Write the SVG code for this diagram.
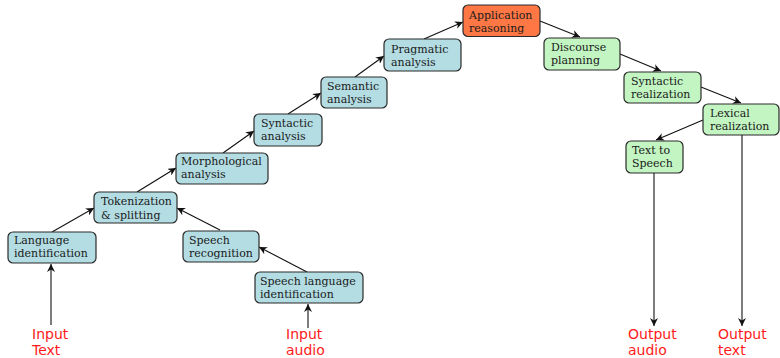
<svg xmlns="http://www.w3.org/2000/svg" width="780" height="358" viewBox="0 0 780 358">
<style>
.n rect{stroke:#2a2a2a;stroke-width:1.2}
.b rect{fill:#b3dde3}
.g rect{fill:#c3f5c3}
.o rect{fill:#ff7744}
.n text{font-family:"DejaVu Serif",serif;font-size:11px;fill:#1a1a1a}
.io{font-family:"DejaVu Sans",sans-serif;font-size:14px;fill:#ff1a1a}
#edges line{stroke:#111;stroke-width:1.1;marker-end:url(#ah)}
</style>
<defs>
<marker id="ah" viewBox="0 0 10 10" refX="10" refY="5" markerWidth="8" markerHeight="8" markerUnits="userSpaceOnUse" orient="auto">
<path d="M0,0 L10,5 L0,10 L3,5 Z" fill="#111"/>
</marker>
</defs>
<rect width="780" height="358" fill="#fff"/>
<g id="edges">
<line x1="51" y1="325" x2="51" y2="264"/>
<line x1="308" y1="328" x2="308" y2="304"/>
<line x1="52" y1="232" x2="94" y2="208"/>
<line x1="220" y1="230" x2="177" y2="208"/>
<line x1="307" y1="272" x2="259" y2="247"/>
<line x1="137" y1="192" x2="176" y2="168"/>
<line x1="223" y1="153" x2="254" y2="131"/>
<line x1="288" y1="114" x2="321" y2="93"/>
<line x1="355" y1="77" x2="384" y2="56"/>
<line x1="424" y1="39" x2="463" y2="22"/>
<line x1="540" y1="21" x2="580" y2="37"/>
<line x1="620" y1="54" x2="661" y2="71"/>
<line x1="701" y1="87" x2="741" y2="103"/>
<line x1="703" y1="120" x2="656" y2="140"/>
<line x1="654" y1="173" x2="654" y2="326"/>
<line x1="742" y1="135" x2="742" y2="326"/>
</g>
<g id="lang_id" class="n b"><rect x="8" y="232" width="88" height="31" rx="5"/><text x="14" y="244">Language</text><text x="14" y="257">identification</text></g>
<g id="tokenization" class="n b"><rect x="94" y="192" width="83" height="31" rx="5"/><text x="101" y="205">Tokenization</text><text x="101" y="218.5">&amp; splitting</text></g>
<g id="speech_rec" class="n b"><rect x="183" y="231" width="76" height="31" rx="5"/><text x="189" y="244">Speech</text><text x="189" y="257">recognition</text></g>
<g id="speech_lang_id" class="n b"><rect x="255" y="272" width="108" height="31" rx="5"/><text x="260" y="285">Speech language</text><text x="260" y="298">identification</text></g>
<g id="morph" class="n b"><rect x="176" y="153" width="92" height="31" rx="5"/><text x="181" y="165">Morphological</text><text x="181" y="178">analysis</text></g>
<g id="syntactic" class="n b"><rect x="254" y="114" width="68" height="32" rx="5"/><text x="261" y="127">Syntactic</text><text x="261" y="140">analysis</text></g>
<g id="semantic" class="n b"><rect x="321" y="77" width="66" height="31" rx="5"/><text x="327" y="90">Semantic</text><text x="327" y="103">analysis</text></g>
<g id="pragmatic" class="n b"><rect x="384" y="39" width="77" height="32" rx="5"/><text x="391" y="53">Pragmatic</text><text x="391" y="66">analysis</text></g>
<g id="application" class="n o"><rect x="463" y="5" width="77" height="31.5" rx="5"/><text x="469" y="18.5">Application</text><text x="469" y="31.5">reasoning</text></g>
<g id="discourse" class="n g"><rect x="544" y="38" width="76" height="32" rx="5"/><text x="551" y="51">Discourse</text><text x="551" y="64">planning</text></g>
<g id="synt_real" class="n g"><rect x="624" y="72" width="77" height="31" rx="5"/><text x="631" y="85">Syntactic</text><text x="631" y="98">realization</text></g>
<g id="lexical" class="n g"><rect x="703" y="104" width="76" height="31" rx="5"/><text x="710" y="117">Lexical</text><text x="710" y="130">realization</text></g>
<g id="tts" class="n g"><rect x="626" y="141" width="57" height="32" rx="5"/><text x="632" y="154">Text to</text><text x="632" y="167">Speech</text></g>
<g id="labels">
<text class="io" x="32" y="339">Input</text><text class="io" x="32" y="354.5">Text</text>
<text class="io" x="286" y="339">Input</text><text class="io" x="286" y="354.5">audio</text>
<text class="io" x="628" y="339">Output</text><text class="io" x="628" y="354.5">audio</text>
<text class="io" x="718" y="339">Output</text><text class="io" x="718" y="354.5">text</text>
</g>
</svg>
